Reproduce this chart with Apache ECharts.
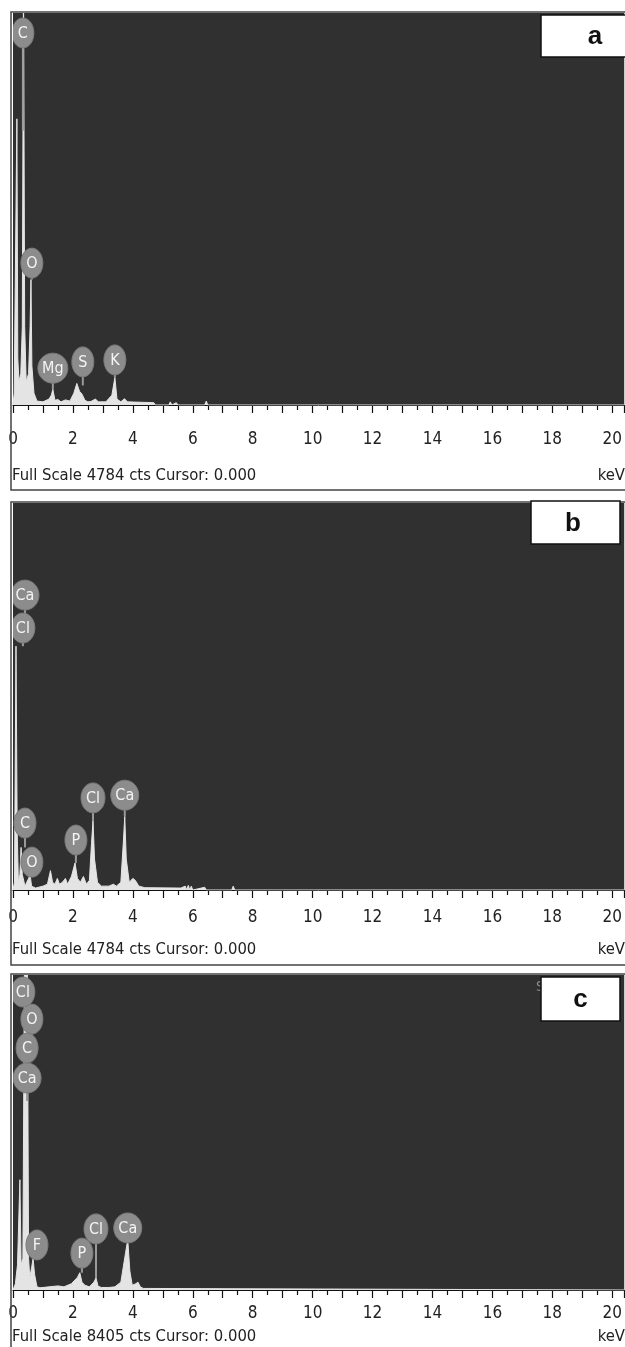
<!DOCTYPE html>
<html><head><meta charset="utf-8">
<script src="https://cdn.jsdelivr.net/npm/echarts@6/dist/echarts.min.js"></script>
<style>html,body{margin:0;padding:0;background:#fff}#c{width:625px;height:1347px}</style>
</head><body><div id="c"></div>
<script>
// ---------- data (keV, % of full-scale height) ----------
const specA_keV = [0,0.04,0.1,0.13,0.16,0.2,0.26,0.31,0.35,0.39,0.44,0.52,0.57,0.6,0.63,0.7,0.8,1.0,1.2,1.28,1.33,1.4,1.5,1.6,1.75,1.9,2.03,2.13,2.22,2.3,2.4,2.5,2.6,2.75,2.85,3.1,3.3,3.4,3.47,3.6,3.72,3.82,4.7,4.75,5.2,5.25,5.3,5.45,5.5,5.55,6.4,6.45,6.5,20.4];
const specA_cts = [0,3,50,73,12,6,8,20,110,20,6,8,20,32,10,3,1,0.8,1.5,2.5,4,1.2,1.4,0.8,1.3,1.0,3,5.5,3.5,2.8,1.2,0.8,0.9,1.5,0.8,0.8,2.5,7,1.5,0.8,1.6,0.8,0.6,0,0,0.8,0,0.6,0,0,0,1,0,0];

const specB_keV = [0,0.05,0.1,0.14,0.18,0.23,0.27,0.31,0.4,0.52,0.57,0.62,0.75,0.9,1.0,1.15,1.25,1.32,1.4,1.48,1.55,1.65,1.75,1.82,1.95,2.07,2.15,2.25,2.35,2.45,2.55,2.62,2.67,2.72,2.82,2.95,3.2,3.35,3.45,3.6,3.68,3.73,3.78,3.88,4.0,4.08,4.2,4.4,5.6,5.65,5.75,5.8,5.85,5.9,5.95,6.0,6.4,6.45,7.3,7.35,7.4,20.4];
const specB_cts = [0,2,63,15,2,4,11,4,1,3,4,1,0.5,0.8,1.0,1.5,5,2,1.5,3,1.5,2,3,1.5,3.5,7,3,2,3.5,1.5,2.5,12,18,8,2,1,1,1.5,1,2,12,19,8,2,3,2.5,1,0.6,0.5,0,1,0,1.2,0,1,0,0.7,0,0,1,0,0];

const specC_keV = [0,0.08,0.15,0.23,0.27,0.33,0.38,0.43,0.48,0.52,0.56,0.62,0.67,0.72,0.8,0.9,1.2,1.5,1.7,1.95,2.15,2.23,2.3,2.4,2.55,2.7,2.77,2.84,2.95,3.2,3.4,3.6,3.76,3.83,3.9,3.98,4.1,4.17,4.25,4.35,4.4,20.4];
const specC_cts = [0,2,8,35,8,10,100,110,100,10,4,7,10,5,1,0.7,1,1.3,1,2,4,5.5,2.5,1.5,1,2.5,3.8,1.2,0.8,0.8,1,2.5,12,16,6,1.5,2,2.5,1,0.5,0,0];

// element tags: [label keV, label y %, stem end y %, element, tag width px]
const tagsA = [[0.33,94.9,70,'C',22],[0.63,36.2,32,'O',22],[1.33,9.4,4,'Mg',30],[2.33,11,5,'S',22],[3.4,11.5,7,'K',22]];
const tagsB = [[0.4,76.2,70,'Ca',28],[0.33,67.7,63,'Cl',24],[0.4,17.3,11,'C',22],[0.63,7.2,4,'O',22],[2.1,12.9,7,'P',22],[2.67,23.8,18,'Cl',24],[3.73,24.5,19,'Ca',28]];
const tagsC = [[0.33,94.6,90,'Cl',24],[0.63,86,80,'O',22],[0.47,76.8,70,'C',22],[0.47,67.3,60,'Ca',28],[0.8,14.3,10,'F',22],[2.3,11.7,5.5,'P',22],[2.77,19.4,3.8,'Cl',24],[3.83,19.7,16,'Ca',28]];

const tickLabels = ['0','2','4','6','8','10','12','14','16','18','20'];
const panelLetters = ['a','b','c'];
const footers = ['Full Scale 4784 cts Cursor: 0.000','Full Scale 4784 cts Cursor: 0.000','Full Scale 8405 cts Cursor: 0.000'];

// ---------- layout ----------
const FONT = "'Liberation Sans Narrow','DejaVu Sans Condensed','Roboto Condensed','Liberation Sans',sans-serif";
const panels = [
  {top:13, axisY:405, labelMargin:26, footY:476, boxTop:12, boxBot:490, letterBox:[541,15,90,42]},
  {top:503, axisY:890, labelMargin:19, footY:950, boxTop:502, boxBot:965, letterBox:[531,501,89,43]},
  {top:975, axisY:1290, labelMargin:15, footY:1337, boxTop:974, boxBot:1352, letterBox:[541,977,79,44]}
];
const specs = [[specA_keV,specA_cts],[specB_keV,specB_cts],[specC_keV,specC_cts]];
const tags = [tagsA,tagsB,tagsC];

const grid=[],xAxis=[],yAxis=[],series=[],graphic=[];
panels.forEach((p,i)=>{
  grid.push({left:13,right:0,top:p.top,height:p.axisY-p.top,show:true,backgroundColor:'#303030',borderWidth:0});
  xAxis.push({type:'value',gridIndex:i,min:0,max:20.4,interval:1,
    axisLine:{show:true,onZero:false,lineStyle:{color:'#111',width:1}},
    axisTick:{show:true,length:8,inside:false,lineStyle:{color:'#111',width:1.2}},
    minorTick:{show:true,splitNumber:2,length:5,lineStyle:{color:'#111',width:1.2}},
    splitLine:{show:false},
    axisLabel:{margin:p.labelMargin,color:'#222',fontSize:17,fontFamily:FONT,showMaxLabel:false,
      formatter:v=>{const k=Math.round(v); return (Math.abs(v-k)<1e-6 && k%2===0)? tickLabels[k/2] : '';}}
  });
  yAxis.push({type:'value',gridIndex:i,min:0,max:100,show:false});
  const [xs,ys]=specs[i];
  series.push({type:'line',xAxisIndex:i,yAxisIndex:i,data:xs.map((x,j)=>[x,ys[j]]),symbol:'none',
    lineStyle:{color:'#e4e4e4',width:1},areaStyle:{color:'#e4e4e4',opacity:1},clip:true,silent:true,z:2});
  series.push({type:'custom',xAxisIndex:i,yAxisIndex:i,clip:true,z:3,silent:true,
    data:tags[i],
    renderItem:(params,api)=>{
      const d=tags[i][params.dataIndex];
      const c=api.coord([d[0],d[1]]);
      const e=api.coord([d[0],d[2]]);
      return {type:'group',children:[
        {type:'line',shape:{x1:c[0],y1:c[1],x2:e[0],y2:e[1]},style:{stroke:'#9a9a9a',lineWidth:2}},
        {type:'ellipse',shape:{cx:c[0],cy:c[1],rx:d[4]/2,ry:15},style:{fill:'#8c8c8c',stroke:'#7a7a7a',lineWidth:1}},
        {type:'text',style:{text:d[3],x:c[0],y:c[1]+1,align:'center',verticalAlign:'middle',fill:'#f4f4f4',font:'16px '+FONT}}
      ]};
    }
  });
  graphic.push({type:'rect',shape:{x:11,y:p.boxTop,width:625,height:p.boxBot-p.boxTop},style:{fill:null,stroke:'#444',lineWidth:1.5},z:10,silent:true});
  graphic.push({type:'text',x:12,y:p.footY,style:{text:footers[i],fill:'#222',font:'16.5px '+FONT,verticalAlign:'middle'},z:10});
  graphic.push({type:'text',x:625,y:p.footY,style:{text:'keV',fill:'#222',font:'16.5px '+FONT,align:'right',verticalAlign:'middle'},z:10});
  const b=p.letterBox;
  graphic.push({type:'rect',shape:{x:b[0],y:b[1],width:b[2],height:b[3]},style:{fill:'#fff',stroke:'#111',lineWidth:1.5},z:10});
  graphic.push({type:'text',x:b[0]+Math.min(b[2],84)/2+(i===0?12:0),y:b[1]+b[3]/2+1,style:{text:panelLetters[i],fill:'#111',font:'bold 26px "Liberation Sans",Arial,sans-serif',align:'center',verticalAlign:'middle'},z:11});
});
graphic.push({type:'text',x:536,y:987,style:{text:'S',fill:'#8c8c8c',font:'14px '+FONT,verticalAlign:'middle'},z:5});

const chart=echarts.init(document.getElementById('c'),null,{renderer:'canvas'});
chart.setOption({animation:false,backgroundColor:'#fff',grid,xAxis,yAxis,series,graphic});
</script></body></html>
